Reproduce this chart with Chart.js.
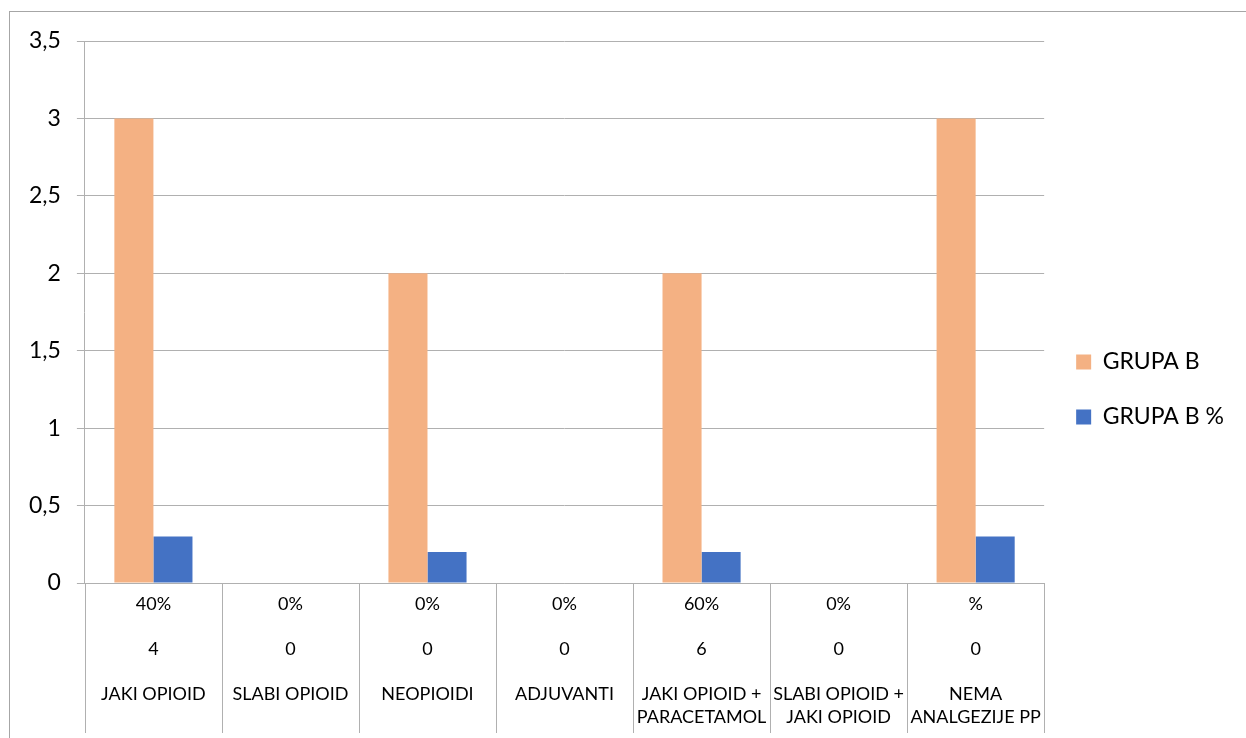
<!DOCTYPE html>
<html>
<head>
<meta charset="utf-8">
<script src="https://cdn.jsdelivr.net/npm/chart.js@4.4.1/dist/chart.umd.min.js"></script>
<style>
  html, body { margin: 0; padding: 0; background: #fff; }
  #wrap { position: relative; width: 1246px; height: 738px; overflow: hidden; }
  #frame { position: absolute; left: 9px; top: 11px; width: 1300px; height: 800px;
           border-left: 1px solid #a6a6a6; border-top: 1px solid #a6a6a6; }
  canvas { position: absolute; left: 0; top: 0; }
</style>
</head>
<body>
<div id="wrap">
  <div id="frame"></div>
  <canvas id="chart" width="1246" height="738"></canvas>
</div>
<script>
// podaci s grafa
const categories = [
    ['JAKI OPIOID'],
    ['SLABI OPIOID'],
    ['NEOPIOIDI'],
    ['ADJUVANTI'],
    ['JAKI OPIOID +', 'PARACETAMOL'],
    ['SLABI OPIOID +', 'JAKI OPIOID'],
    ['NEMA', 'ANALGEZIJE PP']
];
const percentLabels = ['40%', '0%', '0%', '0%', '60%', '0%', '%'];
const countLabels = ['4', '0', '0', '0', '6', '0', '0'];
const grupaB = [3, 0, 2, 0, 2, 0, 3];
const grupaBPct = [0.3, 0, 0.2, 0, 0.2, 0, 0.3];
const yTicks = [0, 0.5, 1, 1.5, 2, 2.5, 3, 3.5];

const fontFamily = "Lato, 'Open Sans', sans-serif";
const gridColor = '#b0b0b0';

// svaka kategorija ima tri reda: postotak, broj, naziv
const xLabels = categories.map(function(name, i) {
    return [percentLabels[i], '', countLabels[i], '', name[0], name[1] || ''];
});

// okomite crte izmedju kategorija ispod osi (kao u Excelu)
const categorySeparators = {
    id: 'categorySeparators',
    afterDraw: function(chart) {
        const xScale = chart.scales.x;
        const c = chart.ctx;
        const top = chart.chartArea.bottom;
        const bottom = top + 150;
        c.save();
        c.strokeStyle = gridColor;
        c.lineWidth = 1;
        c.beginPath();
        for (let i = 0; i <= categories.length; i++) {
            const px = Math.round(xScale.getPixelForValue(i - 0.5)) + 0.5;
            c.moveTo(px, top);
            c.lineTo(px, bottom);
        }
        c.stroke();
        c.restore();
    }
};

const ctx = document.getElementById('chart').getContext('2d');
new Chart(ctx, {
    type: 'bar',
    data: {
        labels: xLabels,
        datasets: [{
            label: 'GRUPA B',
            data: grupaB,
            backgroundColor: '#F4B183',
            borderWidth: 0
        }, {
            label: 'GRUPA B %',
            data: grupaBPct,
            backgroundColor: '#4472C4',
            borderWidth: 0
        }]
    },
    plugins: [categorySeparators],
    options: {
        responsive: false,
        animation: false,
        devicePixelRatio: 1,
        categoryPercentage: 0.57,
        barPercentage: 1.0,
        layout: {
            padding: { top: 41, bottom: 0, left: 13, right: 12 }
        },
        plugins: {
            tooltip: { enabled: false },
            legend: {
                position: 'right',
                labels: {
                    boxWidth: 15,
                    boxHeight: 15,
                    padding: 32,
                    color: '#000',
                    font: { family: fontFamily, size: 23 }
                }
            }
        },
        scales: {
            y: {
                min: 0,
                max: 3.5,
                afterBuildTicks: function(axis) {
                    axis.ticks = yTicks.map(function(v) { return { value: v }; });
                },
                ticks: {
                    color: '#000',
                    padding: 16,
                    font: { family: fontFamily, size: 23 },
                    callback: function(value) {
                        return String(value).replace('.', ',');
                    }
                },
                grid: {
                    color: gridColor,
                    tickLength: 8
                },
                border: { color: gridColor }
            },
            x: {
                grid: {
                    offset: true,
                    drawOnChartArea: false,
                    drawTicks: false
                },
                border: { color: gridColor },
                ticks: {
                    color: '#000',
                    padding: 10,
                    maxRotation: 0,
                    minRotation: 0,
                    autoSkip: false,
                    font: { family: fontFamily, size: 18, lineHeight: 1.25 }
                }
            }
        }
    }
});
</script>
</body>
</html>
